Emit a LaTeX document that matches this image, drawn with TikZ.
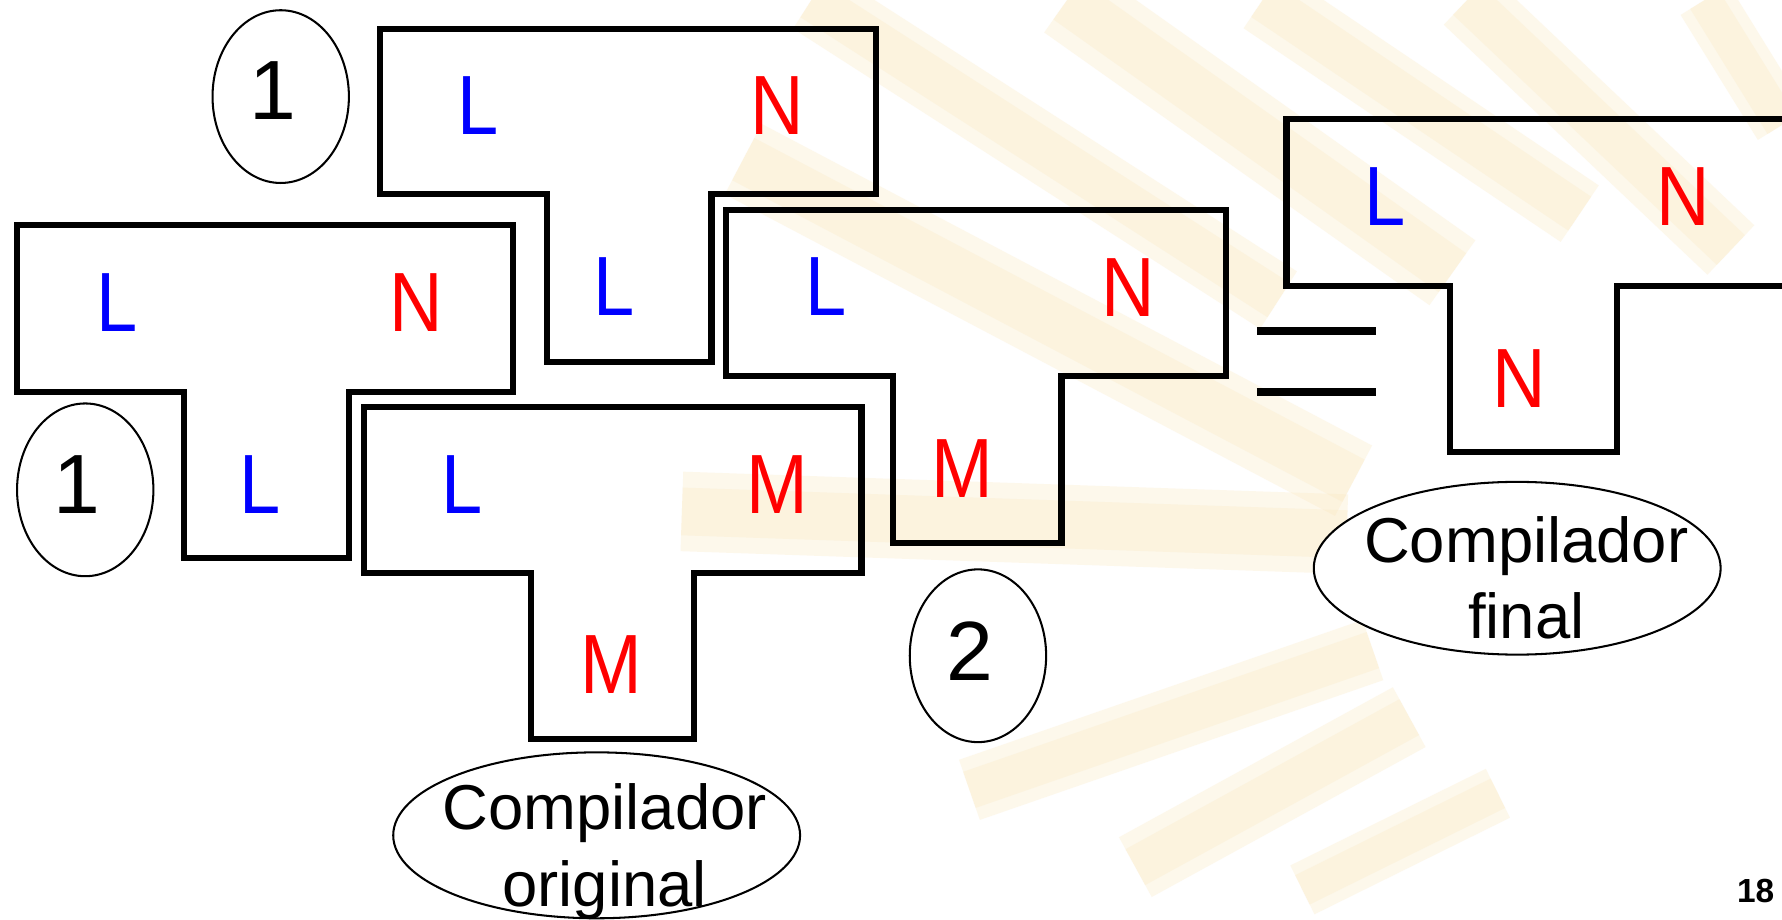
\documentclass[tikz,border=0pt]{standalone}
\usepackage{fontspec}
\setmainfont{Liberation Sans}
\usepackage{graphicx}
\usetikzlibrary{shapes.geometric}
\definecolor{lblue}{RGB}{0,0,255}
\definecolor{lred}{RGB}{255,0,0}
\definecolor{rayc}{RGB}{251,232,192}
\tikzset{
  tbox/.style={line width=2.7pt, line join=miter},
  lab/.style={inner sep=0pt, font=\fontsize{37}{44}\selectfont},
  bl/.style={lab, text=lblue},
  rd/.style={lab, text=lred},
  num/.style={lab, text=black},
  oval/.style={draw, ellipse, line width=0.9pt, inner sep=0pt},
  captxt/.style={inner sep=0pt, anchor=base, font=\fontsize{27.9}{33.5}\selectfont},
  eqbar/.style={line width=3.4pt},
  ray/.style={draw=rayc, line cap=butt, opacity=0.3},
}
\newcommand{\lx}[1]{\scalebox{0.88}[1]{#1}}
\begin{document}
\begin{tikzpicture}[x=0.5pt,y=-0.5pt]
\useasboundingbox (0,0) rectangle (1568,809);
\clip (0,0) rectangle (1568,809);
\fill[white] (0,0) rectangle (1568,809);
% faint background watermark bands
\foreach \xa/\ya/\xb/\yb/\w in {
  654/140/1191/423/35, 714/0/1125/264/30, 939/0/1278/240/35,
  1111/0/1390/188/30, 1291/0/1523/220/30, 1500/0/1568/110/25,
  600/450/1185/470/35, 853/695/1208/572/28, 999/763/1240/631/30,
  1146/783/1318/698/24}
{
  \draw[ray, line width=\w pt] (\xa,\ya) -- (\xb,\yb);
  \draw[ray, line width=0.6*\w pt] (\xa,\ya) -- (\xb,\yb);
}

% T1 (top)
\draw[tbox] (334,25.5) -- (771,25.5) -- (771,171) -- (626,171) -- (626,318.5) -- (481,318.5) -- (481,171) -- (334,171) -- cycle;
\node[bl] (t1l) at (421,93) {\lx{L}};
\node[rd] (t1r) at (684,93) {\lx{N}};
\node[bl] (t1b) at (540,252.5) {\lx{L}};

% T2 (left)
\draw[tbox] (15,198) -- (451.5,198) -- (451.5,345) -- (307,345) -- (307,491) -- (162,491) -- (162,345) -- (15,345) -- cycle;
\node[bl] (t2l) at (103,266) {\lx{L}};
\node[rd] (t2r) at (366,266) {\lx{N}};
\node[bl] (t2b) at (229,426) {\lx{L}};

% T3 (original compiler)
\draw[tbox] (320,358) -- (758,358) -- (758,504.5) -- (611,504.5) -- (611,650.5) -- (467,650.5) -- (467,504.5) -- (320,504.5) -- cycle;
\node[bl] (t3l) at (407,426) {\lx{L}};
\node[rd] (t3r) at (684,426) {\lx{M}};
\node[rd] (t3b) at (538,585) {\lx{M}};

% T4
\draw[tbox] (639,184.5) -- (1079,184.5) -- (1079,330.5) -- (934,330.5) -- (934,478) -- (786,478) -- (786,330.5) -- (639,330.5) -- cycle;
\node[bl] (t4l) at (727,252) {\lx{L}};
\node[rd] (t4r) at (992.5,253) {\lx{N}};
\node[rd] (t4b) at (847,412) {\lx{M}};

% equals sign
\draw[eqbar] (1106,291) -- (1211,291);
\draw[eqbar] (1106,345) -- (1211,345);

% T5 (final compiler)
\draw[tbox] (1132,105) -- (1590,105) -- (1590,251.4) -- (1423,251.4) -- (1423,397.5) -- (1276,397.5) -- (1276,251.4) -- (1132,251.4) -- cycle;
\node[bl] (t5l) at (1219,173) {\lx{L}};
\node[rd] (t5r) at (1481,173) {\lx{N}};
\node[rd] (t5b) at (1336.6,333) {\lx{N}};

% step ellipses
\node[oval, minimum width=60pt, minimum height=76pt] (e1a) at (247,85) {};
\node[num] (n1a) at (240,80) {1};
\node[oval, minimum width=60pt, minimum height=76pt] (e1b) at (75,431) {};
\node[num] (n1b) at (67.5,426) {1};
\node[oval, minimum width=60pt, minimum height=76pt] (e2) at (860.5,577) {};
\node[num] (n2) at (853,573) {2};

% caption ellipses
\node[oval, fill=white, minimum width=179pt, minimum height=73pt] (eorig) at (525,735) {};
\node[captxt] (co1) at (532,730) {Compilador};
\node[captxt] (co2) at (532,798) {original};
\node[oval, fill=white, minimum width=179pt, minimum height=76pt] (efin) at (1335,500) {};
\node[captxt] (cf1) at (1343,495) {Compilador};
\node[captxt] (cf2) at (1343,562) {final};

% page number
\node[inner sep=0pt, anchor=base west, font=\bfseries\fontsize{14.7}{17}\selectfont] (pg) at (1528,794) {18};
\end{tikzpicture}
\end{document}
